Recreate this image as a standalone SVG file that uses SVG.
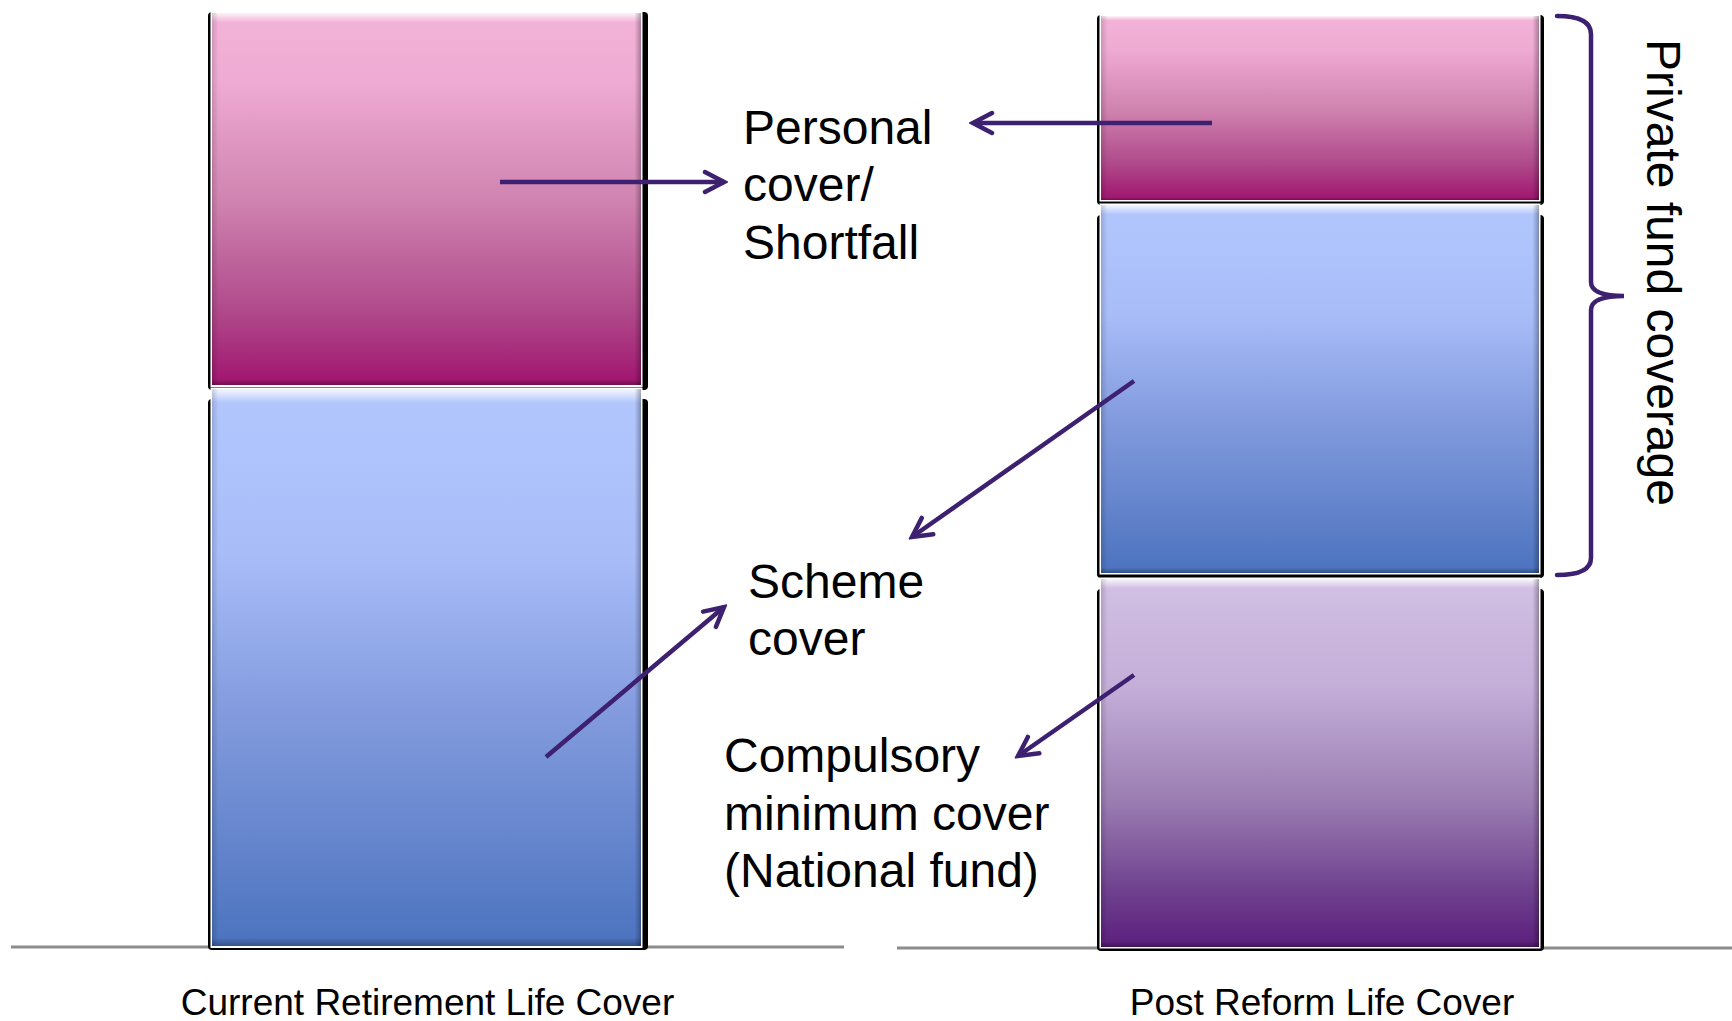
<svg xmlns="http://www.w3.org/2000/svg" width="1732" height="1021" viewBox="0 0 1732 1021">
<style>
.frame{fill:#000}
.border{fill:#fff}
.lbl{font-family:"Liberation Sans",Arial,sans-serif;font-size:48px;fill:#000}
.cap{font-family:"Liberation Sans",Arial,sans-serif;font-size:37px;fill:#000;text-anchor:middle}
.arrow{stroke:#3D2170;stroke-width:4.5;fill:none;marker-end:url(#ah)}
.brace{stroke:#3D2170;stroke-width:4.5;fill:none;stroke-linecap:round}
.axis{stroke:#8C8C8C;stroke-width:3}
.hi{fill:url(#hiTop)}
.side{fill:url(#sideShade)}
</style>
<defs>
<linearGradient id="gPink" x1="0" y1="0" x2="0" y2="1">
<stop offset="0" stop-color="#F3B3D8"/>
<stop offset="0.18" stop-color="#EFABD3"/>
<stop offset="0.5" stop-color="#D084B1"/>
<stop offset="0.8" stop-color="#B04A8B"/>
<stop offset="1" stop-color="#A0146F"/>
</linearGradient>
<linearGradient id="gBlue" x1="0" y1="0" x2="0" y2="1">
<stop offset="0" stop-color="#B3C7FE"/>
<stop offset="0.3" stop-color="#A8BCF8"/>
<stop offset="0.6" stop-color="#8099DC"/>
<stop offset="1" stop-color="#4C73BF"/>
</linearGradient>
<linearGradient id="gPurple" x1="0" y1="0" x2="0" y2="1">
<stop offset="0" stop-color="#D3C0E4"/>
<stop offset="0.3" stop-color="#C3AED8"/>
<stop offset="0.6" stop-color="#9B7DB2"/>
<stop offset="0.85" stop-color="#6E408E"/>
<stop offset="1" stop-color="#5B1E7C"/>
</linearGradient>
<linearGradient id="hiTop" x1="0" y1="0" x2="0" y2="1">
<stop offset="0" stop-color="#fff" stop-opacity="0.85"/>
<stop offset="0.025" stop-color="#fff" stop-opacity="0"/>
<stop offset="0.985" stop-color="#000" stop-opacity="0"/>
<stop offset="1" stop-color="#000" stop-opacity="0.3"/>
</linearGradient>
<linearGradient id="sideShade" x1="0" y1="0" x2="1" y2="0">
<stop offset="0" stop-color="#000" stop-opacity="0.15"/>
<stop offset="0.015" stop-color="#000" stop-opacity="0"/>
<stop offset="0.985" stop-color="#000" stop-opacity="0"/>
<stop offset="1" stop-color="#000" stop-opacity="0.3"/>
</linearGradient>
<marker id="ah" viewBox="-24 -14 28 28" refX="0" refY="0" markerWidth="28" markerHeight="28" markerUnits="userSpaceOnUse" orient="auto">
<path d="M-19,-10 L0,0 L-19,10" fill="none" stroke="#3D2170" stroke-width="4.5" stroke-linecap="round" stroke-linejoin="miter"/>
</marker>
</defs>

<g id="axes">
<line class="axis" x1="11" y1="947" x2="844" y2="947"/>
<line class="axis" x1="897" y1="948" x2="1732" y2="948"/>
</g>

<g id="left-personal">
<rect class="frame" x="208" y="12" width="440" height="378" rx="4"/>
<rect class="border" x="210.5" y="11" width="432" height="376"/>
<rect x="212" y="13" width="429" height="372" fill="url(#gPink)"/>
<rect class="hi" x="212" y="13" width="429" height="372"/>
<rect class="side" x="212" y="13" width="429" height="372"/>
</g>
<g id="left-scheme">
<rect class="frame" x="208" y="399" width="440" height="551" rx="4"/>
<rect class="border" x="210.5" y="387.5" width="432" height="560.5"/>
<rect x="212" y="389" width="429" height="557" fill="url(#gBlue)"/>
<rect class="hi" x="212" y="389" width="429" height="557"/>
<rect class="side" x="212" y="389" width="429" height="557"/>
</g>

<g id="right-personal">
<rect class="frame" x="1097" y="15" width="447" height="190" rx="4"/>
<rect class="border" x="1099.5" y="14.5" width="441" height="187"/>
<rect x="1101" y="16" width="438" height="184" fill="url(#gPink)"/>
<rect class="hi" x="1101" y="16" width="438" height="184"/>
<rect class="side" x="1101" y="16" width="438" height="184"/>
</g>
<g id="right-scheme">
<rect class="frame" x="1097" y="215" width="447" height="363" rx="4"/>
<rect class="border" x="1099.5" y="203.5" width="441" height="371"/>
<rect x="1101" y="205" width="438" height="368" fill="url(#gBlue)"/>
<rect class="hi" x="1101" y="205" width="438" height="368"/>
<rect class="side" x="1101" y="205" width="438" height="368"/>
</g>
<g id="right-compulsory">
<rect class="frame" x="1097" y="589" width="447" height="362" rx="4"/>
<rect class="border" x="1099.5" y="577.5" width="441" height="371"/>
<rect x="1101" y="579" width="438" height="368" fill="url(#gPurple)"/>
<rect class="hi" x="1101" y="579" width="438" height="368"/>
<rect class="side" x="1101" y="579" width="438" height="368"/>
</g>

<g id="label-personal">
<text class="lbl" x="743" y="143.6">Personal</text>
<text class="lbl" x="743" y="201">cover/</text>
<text class="lbl" x="743" y="258.6">Shortfall</text>
</g>
<g id="label-scheme">
<text class="lbl" x="748" y="597.6">Scheme</text>
<text class="lbl" x="748" y="655">cover</text>
</g>
<g id="label-compulsory">
<text class="lbl" x="724" y="772">Compulsory</text>
<text class="lbl" x="724" y="829.5">minimum cover</text>
<text class="lbl" x="724" y="887">(National fund)</text>
</g>
<g id="label-private">
<path class="brace" d="M1557,16 Q1591,16 1591,34 L1591,282 Q1591,296 1624,296 Q1591,296 1591,310 L1591,558 Q1591,575 1557,575"/>
<text class="lbl" transform="translate(1647,39) rotate(90)">Private fund coverage</text>
</g>
<g id="captions">
<text class="cap" x="427.5" y="1015">Current Retirement Life Cover</text>
<text class="cap" x="1322" y="1015">Post Reform Life Cover</text>
</g>

<g id="connectors">
<line class="arrow" x1="500" y1="182" x2="724" y2="182"/>
<line class="arrow" x1="1212" y1="123" x2="973" y2="123"/>
<line class="arrow" x1="1134" y1="381" x2="912" y2="537"/>
<line class="arrow" x1="546" y1="757" x2="724" y2="607"/>
<line class="arrow" x1="1134" y1="675" x2="1018" y2="756"/>
</g>
</svg>
